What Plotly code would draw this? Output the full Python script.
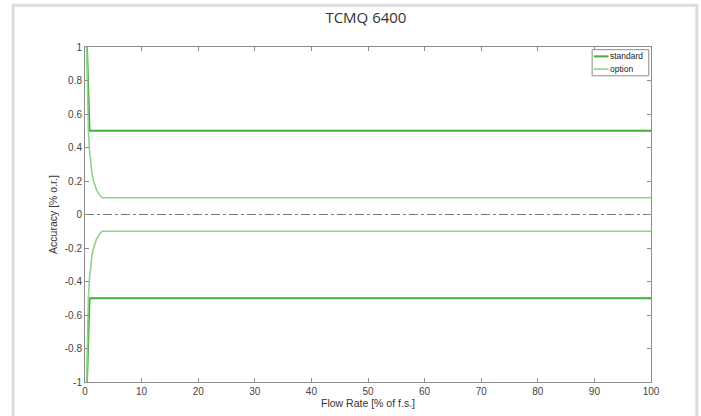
import plotly.graph_objects as go

# Data
std_x = [0.35, 0.4, 0.5, 0.6, 0.7, 0.8, 100]
std_upper = [1.0, 0.95, 0.8, 0.67, 0.57, 0.5, 0.5]
std_lower = [-1.0, -0.95, -0.8, -0.67, -0.57, -0.5, -0.5]

opt_x = [0.3, 0.4, 0.5, 0.6, 0.8, 1.0, 1.25, 1.5, 1.75, 2.0, 2.5, 3.0, 100]
opt_upper = [1.0, 0.75, 0.6, 0.5, 0.38, 0.3, 0.24, 0.2, 0.17, 0.15, 0.12, 0.1, 0.1]
opt_lower = [-v for v in opt_upper]

zero_x = [0, 100]
zero_y = [0, 0]

x_ticks = [0, 10, 20, 30, 40, 50, 60, 70, 80, 90, 100]
y_ticks = [-1, -0.8, -0.6, -0.4, -0.2, 0, 0.2, 0.4, 0.6, 0.8, 1]
y_tick_labels = ["-1", "-0.8", "-0.6", "-0.4", "-0.2", "0", "0.2", "0.4", "0.6", "0.8", "1"]

legend_names = ["standard", "option"]

STD_COLOR = "#3fae3a"
OPT_COLOR = "#8ed58a"
FONT = "Liberation Sans, Arial"

fig = go.Figure()
fig.add_trace(go.Scatter(x=zero_x, y=zero_y, mode="lines",
                         line=dict(color="#555555", width=0.8, dash="dashdot"),
                         showlegend=False, hoverinfo="skip"))
fig.add_trace(go.Scatter(x=std_x, y=std_upper, mode="lines", name=legend_names[0],
                         line=dict(color=STD_COLOR, width=2)))
fig.add_trace(go.Scatter(x=std_x, y=std_lower, mode="lines", name=legend_names[0],
                         line=dict(color=STD_COLOR, width=2)))
fig.add_trace(go.Scatter(x=opt_x, y=opt_upper, mode="lines", name=legend_names[1],
                         line=dict(color=OPT_COLOR, width=1.6)))
fig.add_trace(go.Scatter(x=opt_x, y=opt_lower, mode="lines", name=legend_names[1],
                         line=dict(color=OPT_COLOR, width=1.6)))

axis_common = dict(showline=True, linecolor="#8c8c8c", linewidth=1, mirror="ticks",
                   ticks="inside", ticklen=4, tickcolor="#8c8c8c", showgrid=False,
                   zeroline=False,
                   tickfont=dict(family=FONT, size=10, color="#444444"))

fig.update_xaxes(range=[0, 100], tickvals=x_ticks,
                 title=dict(text="Flow Rate [% of f.s.]", standoff=0,
                            font=dict(family=FONT, size=10.5, color="#333333")),
                 **axis_common)
fig.update_yaxes(range=[-1, 1], tickvals=y_ticks, ticktext=y_tick_labels,
                 title=dict(text="Accuracy [% o.r.]", standoff=5,
                            font=dict(family=FONT, size=10.5, color="#333333")),
                 **axis_common)

# outer light-grey frame
fig.add_shape(type="rect", xref="paper", yref="paper",
              x0=-0.127, x1=1.081, y0=-0.14, y1=1.125,
              line=dict(color="#dcdcdc", width=3), fillcolor="rgba(0,0,0,0)", layer="below")

# manual compact legend (MATLAB style)
fig.add_shape(type="rect", xref="paper", yref="paper",
              x0=0.896, x1=0.996, y0=0.914, y1=0.992,
              line=dict(color="#8c8c8c", width=1), fillcolor="white")
legend_colors = [STD_COLOR, OPT_COLOR]
legend_widths = [2, 1.6]
legend_ys = [0.972, 0.934]
for name, col, w, ly in zip(legend_names, legend_colors, legend_widths, legend_ys):
    fig.add_shape(type="line", xref="paper", yref="paper",
                  x0=0.899, x1=0.925, y0=ly, y1=ly,
                  line=dict(color=col, width=w))
    fig.add_annotation(xref="paper", yref="paper", x=0.924, y=ly, text=name,
                       showarrow=False, xanchor="left", yanchor="middle",
                       font=dict(family=FONT, size=8.5, color="#222222"))

fig.update_layout(
    width=701, height=416,
    margin=dict(l=85, r=50, t=47, b=34),
    paper_bgcolor="white", plot_bgcolor="white",
    title=dict(text="TCMQ 6400", x=0.522, xanchor="center", y=0.957, yanchor="middle",
               font=dict(family="Open Sans", size=15, color="#333333")),
    showlegend=False,
)

fig.write_html("out.html", config={"displayModeBar": False},
               post_script="document.body.style.margin='0';document.body.style.overflow='hidden';")
